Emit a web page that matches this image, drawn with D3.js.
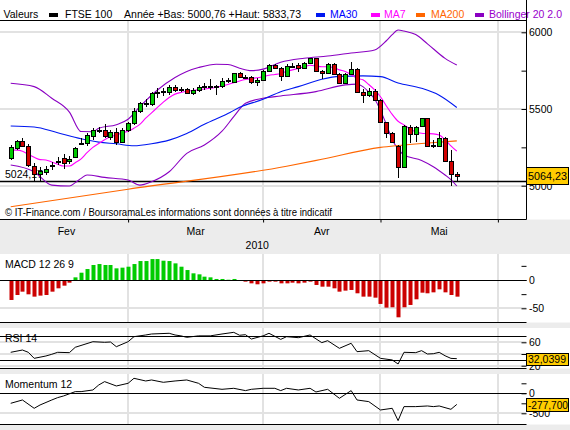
<!DOCTYPE html>
<html>
<head>
<meta charset="utf-8">
<script src="https://cdn.jsdelivr.net/npm/d3@7"></script>
<style>
    body { margin: 0; background: #fff; }
    svg text { font-family: "Liberation Sans", Arial, sans-serif; font-size: 10.5px; fill: #000; }
</style>
</head>
<body>
<div id="chart"></div>
<script>
// FTSE 100, daily candles 1 Feb - 21 May 2010 (index 0..76)
let open  = [5178,5244,5289,5261,5131,5074,5092,5131,5159,5178,5161,5189,5273,5276,5326,5361,5361,5315,5348,5287,
             5363,5407,5487,5537,5531,5608,5613,5613,5644,5628,5628,5602,5624,5648,5650,5650,5650,5683,5678,5733,
             5709,5711,5674,5689,5750,5787,5765,5718,5781,5787,5770,5802,5830,5748,5733,5794,5729,5668,5729,5759,
             5609,5592,5620,5559,5413,5346,5261,5124,5385,5337,5389,5439,5261,5261,5309,5161,5074];
let high  = [5265,5298,5313,5270,5146,5124,5131,5152,5189,5207,5196,5255,5309,5342,5379,5385,5400,5363,5374,5374,
             5418,5505,5548,5563,5613,5635,5635,5657,5657,5646,5639,5635,5657,5667,5696,5657,5700,5700,5737,5744,
             5722,5718,5700,5755,5794,5794,5776,5792,5798,5798,5807,5833.73,5830,5755,5798,5798,5733,5737,5807,5765,
             5628,5635,5628,5563,5418,5352,5265,5396,5396,5389,5444,5444,5298,5352,5316,5233,5092];
let low   = [5165,5235,5250,5124,5031,5031,5070,5102,5135,5107,5139,5185,5265,5261,5298,5342,5309,5298,5265,5276,
             5350,5396,5476,5511,5522,5570,5585,5591,5613,5613,5596,5591,5613,5624,5624,5591,5639,5670,5674,5700,
             5700,5663,5650,5685,5744,5765,5685,5711,5765,5744,5759,5794,5744,5694,5729,5722,5661,5663,5722,5603,
             5537,5581,5552,5407,5309,5276,5048,5120,5276,5287,5385,5255,5244,5255,5157,5000.76,5026];
let close = [5255,5289,5257,5135,5074,5094,5111,5133,5161,5146,5172,5248,5277,5328,5363,5365,5324,5350,5287,5363,
             5407,5487,5537,5540,5602,5613,5615,5646,5624,5626,5602,5624,5646,5650,5652,5648,5685,5688,5733,5707,
             5711,5674,5689,5750,5787,5770,5718,5780,5783,5770,5798,5830,5748,5733,5794,5729,5668,5729,5759,5609,
             5592,5620,5559,5413,5346,5287,5124,5392,5337,5385,5439,5261,5263,5309,5161,5076,5064.23];

// overlays: [candle index, value]
let ma7 = [5233,5232,5225,5205,5185,5170,5168,5155,5140,5128,5128,5150,5175,5215,5250,5275,5300,5320,5330,5345,
           5355,5375,5400,5440,5475,5510,5545,5575,5597,5608,5615,5621,5625,5630,5635,5642,5650,5660,5672,5683,
           5692,5698,5704,5710,5720,5725,5732,5745,5755,5765,5775,5785,5780,5775,5775,5770,5755,5745,5725,5700,
           5690,5660,5625,5580,5520,5465,5420,5396,5372,5350,5342,5340,5338,5330,5300,5260,5225];
let ma30 = [[0,5389],[4,5383],[8,5345],[12,5306],[15,5284],[18,5273],[21,5260],[24,5273],[27,5297],[30,5340],
            [33,5400],[37,5470],[39,5511],[43,5563],[46,5613],[49,5646],[53,5694],[56,5713],[60,5716],[63,5711],
            [66,5670],[70,5635],[73,5590],[76,5510]];
let ma200 = [[0,4863],[20,4977],[47,5127],[53,5172],[63,5250],[66,5262],[70,5275],[76,5292]];
let bollUp = [[0,5668],[4,5646],[7,5570],[10,5480],[12,5353],[14,5352],[15,5374],[18,5398],[20,5433],[22,5515],
              [25,5624],[28,5705],[30,5745],[32,5770],[35,5792],[37,5790],[39,5766],[41,5750],[43,5760],[46,5805],
              [50,5831],[54,5845],[58,5865],[62,5885],[64,5945],[65,5985],[66,6015],[67,6008],[69,5985],[71,5925],
              [74,5830],[76,5787]];
let bollLow = [[0,5135],[4,5091],[7,5004],[10,4998],[11,5020],[12,5048],[13,5070],[16,5054],[20,5037],[22,5004],
               [24,5026],[27,5091],[30,5211],[33,5265],[36,5355],[38,5450],[40,5537],[43,5570],[46,5585],[52,5613],
               [57,5657],[59,5662],[60,5646],[61,5610],[62,5565],[64,5400],[65,5300],[66,5240],[67,5200],[70,5165],
               [72,5124],[74,5070],[75,5040],[76,4998]];

let macd = [-35.3,-26.5,-20.6,-25.3,-29.4,-27.6,-26.5,-20.6,-14.7,-10,-4.7,
            4.7,12.9,19.4,26.5,28.2,26.5,26.5,20.6,21.8,23.5,28.2,33.5,33.5,37,37,34.1,33.5,29.4,23.5,17.6,
            11.8,10,5.9,4.7,1.8,1.8,0.5,1.8,-0.5,
            -2.9,-5.9,-7.6,-5.9,-2.9,-2.9,-5.9,-5.9,-4.7,-5.9,-4.7,-2.9,
            -8.8,-11.8,-11.8,-14.7,-20.6,-18.8,-17.6,-23.5,-29.4,-29.4,-31.2,
            -42.3,-48.8,-48.2,-65.9,-48.2,-44.1,
            -34.1,-22.4,-23.5,-21.8,-16.5,-21.8,-26.5,-29.4];
let rsi = [[0,42.9],[2,46.8],[3,42.9],[4,32.6],[6,36.6],[7,39.5],[8,42.9],[10,42.3],[11,51.5],[14,61],[16,60],
           [17,60.5],[18,52.5],[20,61],[21,69.6],[23,72.5],[24,74.2],[27,75.4],[28,72.5],[29,71],[30,68.5],[32,71],
           [34,71],[36,74.2],[38,77],[39,72],[40,73],[41,65.6],[43,71],[44,75.4],[46,65],[47,69.6],[49,67.9],
           [51,72.5],[53,59.4],[54,62.8],[56,49.7],[58,58.3],[59,44],[61,45.7],[63,32.6],[65,29.8],[66,22.9],
           [67,42.9],[69,42.3],[70,45.7],[71,40],[72,40.5],[73,42.9],[74,37],[75,32.5],[76,32.0399]];
let momentum = [[0,-250],[2,-167],[4,-375],[5,-292],[7,-167],[8,-108],[9,-67],[11,42],[12,42],[14,83],[15,208],
                [16,292],[18,183],[20,250],[21,375],[23,308],[24,333],[26,275],[28,308],[30,333],[32,250],[33,150],
                [36,100],[38,125],[40,67],[41,100],[43,125],[45,125],[46,67],[47,125],[49,83],[51,125],[52,33],
                [54,100],[56,-125],[58,67],[59,-167],[61,-208],[63,-417],[65,-375],[66,-683],[67,-333],[69,-333],
                [71,-317],[72,-333],[73,-317],[75,-400],[76,-277.7]];

let months = ["Fev", "Mar", "Avr", "Mai"];
let monthStarts = [-1, 20, 43, 63, 83];   // candle index where each month starts (last = June)
let yearLabel = { text: "2010", at: 42 };
let priceTicks = [5000, 5250, 5500, 5750, 6000];
let macdTicks = [-50, -25, 0, 25];
let rsiTicks = [20, 40, 60];
let momTicks = [-500, -250, 0, 250];
let lowLine = { value: 5024.17, text: "5024,17" };
let lastPrice = "5064,23", lastRsi = "32,0399", lastMom = "-277,700";

const W = 570, H = 430, plotRight = 526.5;
const green = "#00c800", red = "#d00000", grid = "#e2e2e2";
const C_MA30 = "#0018f0", C_MA7 = "#ff00ff", C_MA200 = "#ff6600", C_BOLL = "#8a00c2";

let svg = d3.select("#chart").append("svg")
    .attr("width", W)
    .attr("height", H);

let panels = {
    main: { top: 20.5, bottom: 219.5 },
    macd: { top: 254, bottom: 322.5 },
    rsi:  { top: 328, bottom: 368.5 },
    mom:  { top: 374, bottom: 424.5 }
};

let x = d3.scaleLinear().domain([0, 76]).range([10.7, 456.8]);
let yP = d3.scaleLinear().domain([5000, 6000]).range([185.7, 32.3]);
let yM = d3.scaleLinear().domain([-50, 0]).range([308.3, 280]);
let yR = d3.scaleLinear().domain([20, 60]).range([365.7, 342.3]);
let yMo = d3.scaleLinear().domain([-500, 0]).range([413.3, 393.3]);

// backgrounds
svg.append("rect").attr("width", W).attr("height", H).attr("fill", "#ececec");
svg.append("rect").attr("width", W).attr("height", 219.5).attr("fill", "#fff");
Object.values(panels).slice(1).forEach(p => {
    svg.append("rect").attr("x", 0).attr("y", p.top).attr("width", W).attr("height", p.bottom - p.top).attr("fill", "#fff");
});

// clip paths
Object.entries(panels).forEach(([k, p]) => {
    svg.append("clipPath").attr("id", "clip-" + k)
        .append("rect").attr("x", 0).attr("y", p.top).attr("width", plotRight).attr("height", p.bottom - p.top);
});

function panelGroup(key, yScale, hGrid) {
    let p = panels[key];
    let g = svg.append("g").attr("clip-path", `url(#clip-${key})`);
    // vertical month grid
    g.selectAll(".vg").data(monthStarts.filter(d => d > 0)).join("line")
        .attr("x1", d => Math.round(x(d))).attr("x2", d => Math.round(x(d)))
        .attr("y1", p.top).attr("y2", p.bottom)
        .attr("stroke", grid).attr("stroke-width", 2);
    g.selectAll(".hg").data(hGrid).join("line")
        .attr("x1", 0).attr("x2", plotRight)
        .attr("y1", d => Math.round(yScale(d))).attr("y2", d => Math.round(yScale(d)))
        .attr("stroke", grid).attr("stroke-width", 2);
    return g;
}

function hLine(y, x1, x2) {
    svg.append("line").attr("x1", x1).attr("x2", x2).attr("y1", y).attr("y2", y)
        .attr("stroke", "#000").attr("stroke-width", 1);
}

function rightAxis(yScale, ticks, labelled) {
    svg.append("g")
        .attr("transform", `translate(${plotRight},0)`)
        .call(d3.axisRight(yScale).tickValues(ticks).tickSize(-5).tickPadding(2.5)
            .tickFormat(d => labelled(d) ? String(d) : ""))
        .call(g => g.select(".domain").remove())
        .call(g => g.selectAll("text").attr("font-size", null).attr("font-family", null));
}

function valueBox(yc, h, text, len) {
    let top = Math.round(yc - h / 2) + 0.5;
    svg.append("rect").attr("x", plotRight).attr("y", top).attr("width", 42).attr("height", h)
        .attr("fill", "#ffcc00").attr("stroke", "#000").attr("stroke-width", 1);
    svg.append("text").attr("x", 528).attr("y", top + h / 2 + 3.8)
        .attr("textLength", len).attr("lengthAdjust", "spacingAndGlyphs").text(text);
}

// ---------------- main price panel ----------------
let gMain = panelGroup("main", yP, [5000, 5500, 6000]);

gMain.append("line")
    .attr("x1", 0).attr("x2", plotRight)
    .attr("y1", Math.round(yP(lowLine.value)) - 0.5).attr("y2", Math.round(yP(lowLine.value)) - 0.5)
    .attr("stroke", "#000").attr("stroke-width", 1.3);
gMain.append("text").attr("x", 5).attr("y", 177.5).text(lowLine.text);

gMain.append("text").attr("x", 5).attr("y", 216.3)
    .attr("font-size", 9.5).attr("textLength", 327).attr("lengthAdjust", "spacingAndGlyphs")
    .text("© IT-Finance.com / BoursoramaLes informations sont données à titre indicatif");

let smooth = d3.line().x(d => x(d[0])).y(d => yP(d[1])).curve(d3.curveMonotoneX);

[[bollUp, C_BOLL], [bollLow, C_BOLL], [ma200, C_MA200], [ma30, C_MA30],
 [ma7.map((v, i) => [i, v]), C_MA7]].forEach(([pts, col]) => {
    gMain.append("path").attr("d", smooth(pts))
        .attr("fill", "none").attr("stroke", col).attr("stroke-width", 1.1);
});

let candles = gMain.append("g").selectAll("g").data(close.map((c, i) => i)).join("g");
candles.append("line")
    .attr("x1", i => Math.round(x(i)) + 0.5).attr("x2", i => Math.round(x(i)) + 0.5)
    .attr("y1", i => Math.round(yP(high[i]))).attr("y2", i => Math.round(yP(low[i])))
    .attr("stroke", "#000").attr("stroke-width", 1);
candles.append("rect")
    .attr("x", i => Math.round(x(i)) - 1.5)
    .attr("width", 4)
    .attr("y", i => Math.round(yP(Math.max(open[i], close[i]))) + 0.5)
    .attr("height", i => Math.max(1, Math.round(yP(Math.min(open[i], close[i]))) - Math.round(yP(Math.max(open[i], close[i])))))
    .attr("fill", i => close[i] >= open[i] ? green : red)
    .attr("stroke", "#000").attr("stroke-width", 1);

hLine(panels.main.top, 0, plotRight);
hLine(panels.main.bottom, 0, plotRight);
rightAxis(yP, priceTicks, d => d % 500 === 0);
valueBox(yP(close[76]), 17, lastPrice, 39);

// date axis
svg.append("g")
    .attr("transform", `translate(0,${panels.main.bottom})`)
    .call(d3.axisBottom(x).tickValues(monthStarts.filter(d => d > 0)).tickSize(3).tickFormat(""))
    .call(g => g.select(".domain").remove());
svg.append("g").selectAll("text").data(months).join("text")
    .attr("x", (d, k) => x((monthStarts[k] + monthStarts[k + 1]) / 2))
    .attr("y", 234.5).attr("text-anchor", "middle").text(d => d);
svg.append("text").attr("x", x(yearLabel.at)).attr("y", 249).attr("text-anchor", "middle").text(yearLabel.text);

// ---------------- MACD ----------------
let gMacd = panelGroup("macd", yM, [-50, 50]);
gMacd.selectAll(".bar").data(macd).join("rect")
    .attr("x", (d, i) => Math.round(x(i)) - 1.5)
    .attr("width", 4)
    .attr("y", d => d >= 0 ? yM(d) : yM(0))
    .attr("height", d => Math.abs(yM(d) - yM(0)))
    .attr("fill", d => d >= 0 ? "#00cc00" : "#cc0000");
hLine(Math.round(yM(0)) + 0.5, 0, plotRight);
hLine(panels.macd.bottom, 0, plotRight);
svg.append("text").attr("x", 5).attr("y", 267.5).text("MACD 12 26 9");
rightAxis(yM, macdTicks, d => d % 50 === 0);

// ---------------- RSI ----------------
let gRsi = panelGroup("rsi", yR, [20, 40, 60]);
hLine(Math.round(yR(70)) + 0.5, 0, plotRight);
hLine(Math.round(yR(30)) + 0.5, 0, plotRight);
svg.append("text").attr("x", 5).attr("y", 341.5).text("RSI 14");
gRsi.append("path")
    .attr("d", d3.line().x(d => x(d[0])).y(d => yR(d[1]))(rsi))
    .attr("fill", "none").attr("stroke", "#000").attr("stroke-width", 1);
hLine(panels.rsi.bottom, 0, plotRight);
// the 40 label sits under the value box in the original, only 20 and 60 show
rightAxis(yR, rsiTicks, d => d !== 40);
valueBox(yR(32.0399), 12, lastRsi, 38);

// ---------------- Momentum ----------------
let gMom = panelGroup("mom", yMo, [-500, 500]);
hLine(Math.round(yMo(0)) + 0.5, 0, plotRight);
svg.append("text").attr("x", 5).attr("y", 388).text("Momentum 12");
gMom.append("path")
    .attr("d", d3.line().x(d => x(d[0])).y(d => yMo(d[1]))(momentum))
    .attr("fill", "none").attr("stroke", "#000").attr("stroke-width", 1);
hLine(panels.mom.bottom, 0, plotRight);
rightAxis(yMo, momTicks, d => d % 500 === 0);
valueBox(yMo(-277.7), 13, lastMom, 40);

// ---------------- legend ----------------
let legend = svg.append("g");
legend.append("text").attr("x", 3.5).attr("y", 18).text("Valeurs");
let items = [
    { x: 49, col: "#000", label: "FTSE 100", tx: 65, txt: "#000" },
    { x: 316, col: C_MA30, label: "MA30", tx: 330, txt: "#0000ff" },
    { x: 371, col: C_MA7, label: "MA7", tx: 384, txt: "#ff00ff" },
    { x: 416, col: C_MA200, label: "MA200", tx: 431, txt: "#ff6600" },
    { x: 475, col: C_BOLL, label: "Bollinger 20 2.0", tx: 489, txt: "#9900cc" }
];
items.forEach(it => {
    legend.append("rect").attr("x", it.x).attr("y", 13).attr("width", 9).attr("height", 4).attr("fill", it.col);
    legend.append("text").attr("x", it.tx).attr("y", 18).style("fill", it.txt).text(it.label);
});
legend.append("text").attr("x", 124).attr("y", 18)
    .attr("textLength", 177).attr("lengthAdjust", "spacingAndGlyphs")
    .text("Année +Bas: 5000,76 +Haut: 5833,73");

// right border of the price panel, runs up through the legend row
svg.append("line").attr("x1", plotRight).attr("x2", plotRight).attr("y1", 0).attr("y2", panels.main.bottom)
    .attr("stroke", "#000").attr("stroke-width", 1);
</script>
</body>
</html>
